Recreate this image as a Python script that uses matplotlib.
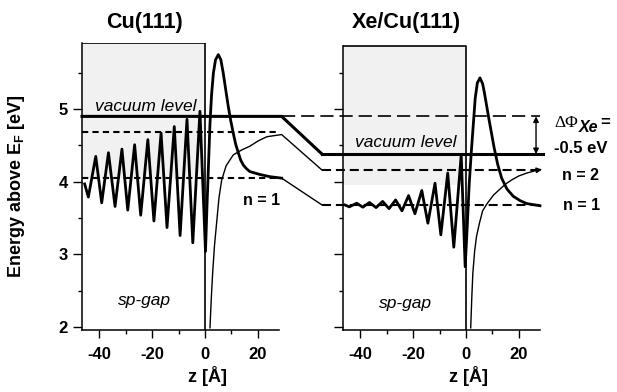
import matplotlib
matplotlib.use('Agg')
import matplotlib.pyplot as plt
from matplotlib.patches import Rectangle
from matplotlib.ticker import MultipleLocator

plt.rcParams['font.family'] = ['Liberation Sans', 'DejaVu Sans']
plt.rcParams['mathtext.fontset'] = 'custom'
plt.rcParams['mathtext.rm'] = 'Liberation Sans'
plt.rcParams['mathtext.bf'] = 'Liberation Sans:bold'
plt.rcParams['lines.scale_dashes'] = False

# energy levels (eV above E_F)
cu_vac, cu_n2, cu_n1 = 4.90, 4.69, 4.05
xe_vac, xe_n2, xe_n1 = 4.38, 4.16, 3.68

# n=1 wavefunction, Cu(111)
cu_psi_z = [-45.5, -44.1, -41.3, -39.05, -36.5, -34.0, -31.4, -29.2, -26.6, -24.3,
            -21.6, -19.3, -16.6, -14.35, -11.6, -9.4, -6.8, -4.6, -1.9, 0.2,
            0.8, 1.4, 1.9, 2.5, 3.2, 4.0, 5.05, 6.0, 6.9, 7.8, 8.8, 9.7, 10.7,
            11.6, 12.6, 13.5, 14.5, 15.7, 17.0, 20.8, 24.6, 29.0]
cu_psi_e = [3.97, 3.79, 4.35, 3.71, 4.40, 3.66, 4.45, 3.61, 4.51, 3.54,
            4.58, 3.46, 4.67, 3.37, 4.76, 3.26, 4.86, 3.16, 4.97, 3.04,
            3.70, 4.30, 4.80, 5.20, 5.50, 5.68, 5.75, 5.68, 5.50, 5.28, 5.04, 4.85, 4.67,
            4.52, 4.40, 4.30, 4.23, 4.18, 4.14, 4.10, 4.07, 4.05]

# image potential, Cu(111)
cu_pot_z = [1.9, 2.4, 2.9, 3.6, 4.4, 5.3, 6.3, 8.0, 10.7, 14.0, 17.0, 20.0, 23.4, 29.0]
cu_pot_e = [1.99, 2.40, 2.74, 3.12, 3.43, 3.78, 4.02, 4.22, 4.37, 4.44, 4.49, 4.56, 4.62, 4.65]

# n=1 wavefunction, Xe/Cu(111)
xe_psi_z = [-45.7, -44.1, -41.3, -39.0, -36.5, -34.0, -31.5, -29.1, -26.6, -24.2,
            -21.7, -19.3, -16.7, -14.4, -11.7, -9.5, -6.9, -4.6, -1.8, -0.3,
            0.5, 1.2, 2.0, 2.8, 3.5, 4.3, 5.3, 6.3, 7.0, 7.85, 8.7, 9.7, 10.7,
            12.0, 13.5, 15.5, 17.9, 20.5, 23.0, 28.0]
xe_psi_e = [3.68, 3.655, 3.705, 3.65, 3.715, 3.645, 3.73, 3.63, 3.75, 3.60,
            3.81, 3.56, 3.88, 3.43, 3.98, 3.27, 4.12, 3.10, 4.37, 2.83,
            3.40, 3.95, 4.40, 4.80, 5.15, 5.36, 5.43, 5.35, 5.22, 5.04, 4.86, 4.66, 4.46,
            4.24, 4.05, 3.90, 3.80, 3.74, 3.70, 3.67]

# image potential, Xe/Cu(111)
xe_pot_z = [1.8, 2.2, 2.6, 3.3, 4.0, 5.1, 6.3, 8.0, 10.5, 12.9, 15.0, 17.5, 20.0, 23.0, 27.0, 28.8]
xe_pot_e = [1.99, 2.40, 2.74, 3.05, 3.25, 3.43, 3.60, 3.70, 3.82, 3.90, 3.97, 4.03, 4.08, 4.12, 4.16, 4.17]

XLIM = (-46.5, 28)
YLIM = (1.96, 5.91)
W, H = 617, 392

fig = plt.figure(figsize=(W / 100, H / 100), dpi=100)


def px_axes(x0, x1, y0, y1):
    return fig.add_axes([x0 / W, 1 - y1 / H, (x1 - x0) / W, (y1 - y0) / H])


axL = px_axes(82, 279, 43, 330)
axR = px_axes(343, 540, 43, 330)

# offset (in z units) between the two panels, for lines that cross the gap
SHIFT = (343 - 82) / (279 - 82) * (XLIM[1] - XLIM[0])
GAP0, GAP1 = 29.0, 44.3

short_dash = (4.5, 3.0)
mid_dash = (6.5, 3.5)
long_dash = (9.5, 4.3)


def style(ax, box_top, stip_lo, ylabels):
    ax.set_xlim(*XLIM)
    ax.set_ylim(*YLIM)
    ax.patch.set_visible(False)
    for s in ['top', 'right']:
        ax.spines[s].set_visible(False)
    ax.spines['left'].set_bounds(YLIM[0], box_top)
    ax.spines['left'].set_linewidth(1.1)
    ax.spines['bottom'].set_linewidth(1.1)
    ax.set_xticks([-40, -20, 0, 20])
    ax.set_xticklabels(['-40', '-20', '0', '20'], fontsize=12, fontweight='bold')
    ax.xaxis.set_minor_locator(MultipleLocator(10))
    ax.set_yticks([2, 3, 4, 5])
    if ylabels:
        ax.set_yticklabels(['2', '3', '4', '5'], fontsize=12, fontweight='bold')
    else:
        ax.set_yticklabels([])
    ax.yaxis.set_minor_locator(MultipleLocator(0.5))
    ax.tick_params(axis='x', which='major', length=6, width=1, pad=6.5)
    ax.tick_params(axis='x', which='minor', length=3, width=1)
    ax.tick_params(axis='y', which='major', length=6.5, width=1, pad=3.5)
    ax.tick_params(axis='y', which='minor', length=3.2, width=1)
    # stippled bulk-band area
    ax.add_patch(Rectangle((XLIM[0], stip_lo), -XLIM[0], box_top - stip_lo,
                           facecolor='#f1f1f1', edgecolor='none', zorder=0))
    ax.plot([XLIM[0], 0, 0], [box_top, box_top, YLIM[0]], color='k', lw=1.2)
    ax.set_xlabel('z [Å]', fontsize=13, fontweight='bold')
    ax.xaxis.set_label_coords(0.635, -0.125)


style(axL, 5.91, 4.05, True)
style(axR, 5.87, 3.95, False)

axL.set_ylabel(r'Energy above E$_{\mathbf{F}}$ [eV]', fontsize=13, fontweight='bold')
axL.yaxis.set_label_coords(-0.28, 0.5)

# ---- Cu(111) panel
axL.plot([XLIM[0], GAP0, GAP1], [cu_vac, cu_vac, xe_vac], color='k', lw=2.2,
         clip_on=False, solid_joinstyle='miter')
axL.plot([XLIM[0], 28.4], [cu_n2, cu_n2], color='k', lw=1.5, dashes=short_dash)
axL.plot([XLIM[0], GAP0], [cu_n1, cu_n1], color='k', lw=1.5, dashes=short_dash)
axL.plot(cu_pot_z + [GAP1], cu_pot_e + [xe_n2], color='k', lw=1.0, clip_on=False)
axL.plot([GAP0, GAP1], [cu_n1, xe_n1], color='k', lw=1.0, clip_on=False)
axL.plot(cu_psi_z, cu_psi_e, color='k', lw=2.0, clip_on=False,
         solid_joinstyle='round')

# ---- Xe/Cu(111) panel
axR.plot([GAP0 - SHIFT, 28], [cu_vac, cu_vac], color='k', lw=1.2, dashes=long_dash,
         clip_on=False)
axR.plot([GAP1 - SHIFT, 29.1], [xe_vac, xe_vac], color='k', lw=2.2, clip_on=False)
axR.plot([GAP1 - SHIFT, 26.5], [xe_n2, xe_n2], color='k', lw=1.5, dashes=mid_dash,
         clip_on=False)
axR.plot([GAP1 - SHIFT, 28], [xe_n1, xe_n1], color='k', lw=1.5, dashes=mid_dash,
         clip_on=False)
axR.plot(xe_pot_z[:-1], xe_pot_e[:-1], color='k', lw=1.0, clip_on=False)
axR.annotate('', xy=(xe_pot_z[-1], xe_pot_e[-1]), xytext=(xe_pot_z[-2], xe_pot_e[-2]),
             arrowprops=dict(arrowstyle='-|>', color='k', lw=1.0, mutation_scale=8,
                             shrinkA=0, shrinkB=0), annotation_clip=False)
axR.plot(xe_psi_z, xe_psi_e, color='k', lw=2.0, clip_on=False,
         solid_joinstyle='round')
axR.annotate('', xy=(26.5, xe_vac), xytext=(26.5, cu_vac),
             arrowprops=dict(arrowstyle='<|-|>', color='k', lw=1.0, mutation_scale=8,
                             shrinkA=0, shrinkB=0), annotation_clip=False)

# ---- labels
for ax, title in [(axL, 'Cu(111)'), (axR, 'Xe/Cu(111)')]:
    ax.annotate(title, xy=(-22.7, 1.073), xycoords=('data', 'axes fraction'),
                ha='center', va='center', fontsize=15.5, fontweight='bold')

axL.text(-41.6, 4.98, 'vacuum level', fontsize=12.5, style='italic', va='baseline')
axR.text(-42.0, 4.48, 'vacuum level', fontsize=12.5, style='italic', va='baseline')
axL.text(-32.9, 2.30, 'sp-gap', fontsize=12.5, style='italic', va='baseline')
axR.text(-32.9, 2.26, 'sp-gap', fontsize=12.5, style='italic', va='baseline')
axL.text(14.4, 3.68, 'n = 1', fontsize=11.5, fontweight='bold', va='baseline')


def ftext(xpx, ypx, s, **kw):
    fig.text(xpx / W, 1 - ypx / H, s, va='baseline', **kw)


ftext(554, 127, 'ΔΦ', fontsize=12.5, family=['Liberation Serif', 'DejaVu Serif'])
ftext(579, 132, 'Xe', fontsize=11.5, fontweight='bold', style='italic')
ftext(600, 127, '=', fontsize=12, fontweight='bold')
ftext(581, 153, '-0.5 eV', fontsize=12, fontweight='bold', ha='center')
ftext(580, 180, 'n = 2', fontsize=11.5, fontweight='bold', ha='center')
ftext(581.5, 210, 'n = 1', fontsize=11.5, fontweight='bold', ha='center')

fig.savefig('out.png', dpi=100)
